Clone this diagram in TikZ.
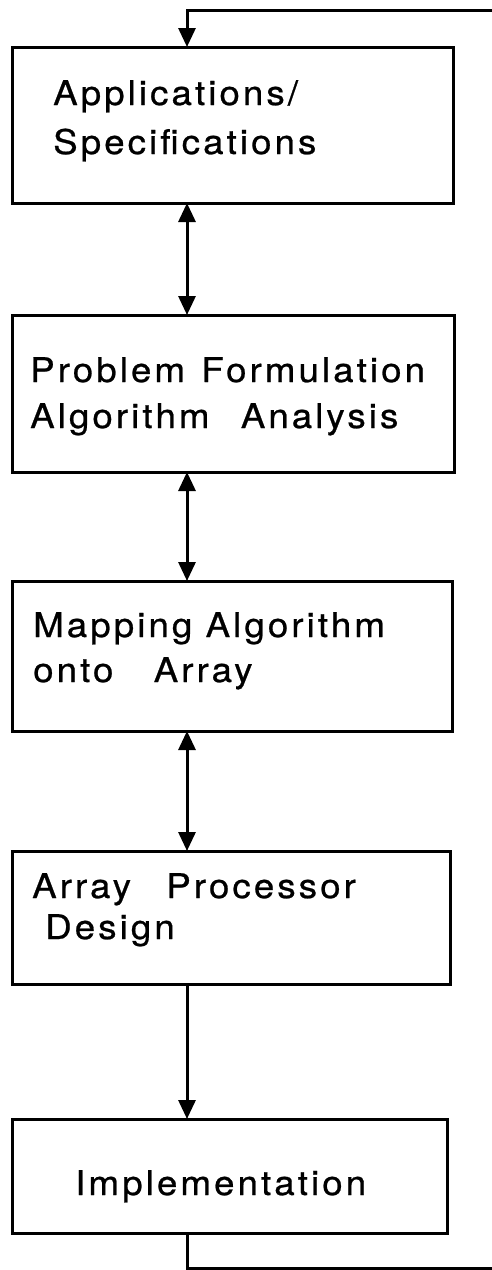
\documentclass[tikz,border=0pt]{standalone}
\usepackage{fontspec}
\setmainfont{TeX Gyre Heros}[LetterSpace=9, FakeStretch=1.08, FakeBold=0.7]
\usetikzlibrary{arrows.meta}
\tikzset{
  stage/.style={draw, line width=3pt, inner sep=0pt, outer sep=0pt},
  txt/.style={anchor=base west, inner sep=0pt, font=\fontsize{34}{40}\selectfont},
  link/.style={line width=3pt},
  tip/.tip={Triangle[width=17pt,length=19pt]},
  one/.style={link, -tip},
  both/.style={link, tip-tip},
}
\begin{document}
\begin{tikzpicture}[x=1pt,y=-1pt]
  \useasboundingbox (0,0) rectangle (492,1270);

  % the five stages of the design flow
  \node[stage, minimum width=441pt, minimum height=156pt] (b1) at (232.5,125) {};
  \node[stage, minimum width=442pt, minimum height=157pt] (b2) at (233,393.5) {};
  \node[stage, minimum width=440pt, minimum height=150pt] (b3) at (232,656) {};
  \node[stage, minimum width=438pt, minimum height=133pt] (b4) at (231,917.5) {};
  \node[stage, minimum width=435pt, minimum height=114pt] (b5) at (229.5,1176) {};

  % stage captions
  \node[txt] (t1a) at (53,105)  {Applications/};
  \node[txt] (t1b) at (53,154)  {Specifications};
  \node[txt] (t2a) at (30,382)  {Problem\hspace{3pt} Formulation};
  \node[txt] (t2b) at (30,428)  {Algorithm\hspace{18pt} Analysis};
  \node[txt] (t3a) at (33,637)  {Mapping Algorithm};
  \node[txt] (t3b) at (33,682)  {onto\hspace{27pt} Array};
  \node[txt] (t4a) at (32,898)  {Array\hspace{22pt} Processor};
  \node[txt] (t4b) at (45,939)  {Design};
  \node[txt] (t5)  at (75,1195) {Implementation};

  % spine of the flow and the feedback loop ends
  \coordinate (ax)  at (187,0);
  \coordinate (fbR) at (492,1268);
  \coordinate (fbT) at (492,10);

  \draw[both] (b1.south -| ax) -- (b2.north -| ax);
  \draw[both] (b2.south -| ax) -- (b3.north -| ax);
  \draw[both] (b3.south -| ax) -- (b4.north -| ax);
  \draw[one]  (b4.south -| ax) -- (b5.north -| ax);

  \draw[link] (b5.south -| ax) |- (fbR);
  \draw[one]  (fbT) -| (b1.north -| ax);
\end{tikzpicture}
\end{document}
